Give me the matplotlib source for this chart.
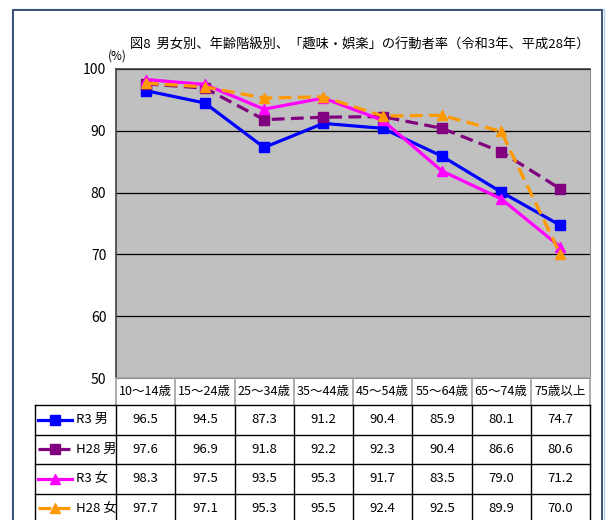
import matplotlib
matplotlib.use('Agg')
import matplotlib.pyplot as plt
import matplotlib.transforms as mtransforms

plt.rcParams['font.family'] = ['Noto Sans CJK JP', 'DejaVu Sans']

# DATA
ages = ['10～14歳', '15～24歳', '25～34歳', '35～44歳',
        '45～54歳', '55～64歳', '65～74歳', '75歳以上']
names = ['R3 男', 'H28 男', 'R3 女', 'H28 女']
r3_male = [96.5, 94.5, 87.3, 91.2, 90.4, 85.9, 80.1, 74.7]
h28_male = [97.6, 96.9, 91.8, 92.2, 92.3, 90.4, 86.6, 80.6]
r3_female = [98.3, 97.5, 93.5, 95.3, 91.7, 83.5, 79.0, 71.2]
h28_female = [97.7, 97.1, 95.3, 95.5, 92.4, 92.5, 89.9, 70.0]
values = [r3_male, h28_male, r3_female, h28_female]
yticks = [50, 60, 70, 80, 90, 100]
title = '図8  男女別、年齢階級別、「趣味・娯楽」の行動者率（令和3年、平成28年）'

# styles
colors = ['#0000ff', '#800080', '#ff00ff', '#ff9900']
markers = ['s', 's', '^', '^']
dashed = [False, True, False, True]

W, H = 608, 520
fig = plt.figure(figsize=(W / 100, H / 100), dpi=100)
L, R, T, B = 116, 590, 69, 378
ax = fig.add_axes([L / W, 1 - B / H, (R - L) / W, (B - T) / H])
ax.set_facecolor('#c0c0c0')
ax.set_xlim(-0.5, len(ages) - 0.5)
ax.set_ylim(50, 100)
ax.set_yticks(yticks)
ax.set_xticks([])
ax.tick_params(axis='y', length=0, pad=7, labelsize=10)
ax.yaxis.grid(True, color='black', lw=0.9)
ax.set_axisbelow(True)
for s in ['top', 'left']:
    ax.spines[s].set_color('#404040')
    ax.spines[s].set_linewidth(1.2)
for s in ['right', 'bottom']:
    ax.spines[s].set_color('#909090')

x = range(len(ages))
for v, c, m, d in zip(values, colors, markers, dashed):
    ls = (0, (4, 2)) if d else '-'
    ax.plot(x, v, color=c, lw=2.3, ls=ls, marker=m, ms=7.5, mec=c, mfc=c)

# overlay in pixel coords for frame, title and table
ov = fig.add_axes([0, 0, 1, 1], zorder=3)
ov.set_xlim(0, W)
ov.set_ylim(H, 0)
ov.axis('off')
ov.patch.set_alpha(0)

ov.plot([11.5, 11.5, 603.5, 603.5], [540, 8.5, 8.5, 540], color='#b8cfee', lw=1.0)
ov.plot([13, 13, 602, 602], [540, 10, 10, 540], color='#2b4468', lw=1.3)

ov.text(589, 45, title, ha='right', va='center', fontsize=9.5)
ov.text(117, 56, '(%)', ha='center', va='center', fontsize=8.5)

trans = mtransforms.blended_transform_factory(ax.transData, ov.transData)
head_top, head_bot = B, 405
row_h = 29.5
n = len(ages)

# header
for i in range(n + 1):
    ov.plot([i - 0.5, i - 0.5], [head_top, head_bot], color='#a0a0a0', lw=1.2, transform=trans)
for i, a in enumerate(ages):
    ov.text(i, (head_top + head_bot) / 2, a, ha='center', va='center', fontsize=9, transform=trans)

# data rows
table_bot = head_bot + row_h * len(names)
for k in range(len(names) + 1):
    ov.plot([35, R], [head_bot + k * row_h] * 2, color='black', lw=1.0)
ov.plot([35, 35], [head_bot, table_bot], color='black', lw=1.0)
for i in range(n + 1):
    ov.plot([i - 0.5, i - 0.5], [head_bot, table_bot], color='black', lw=1.0, transform=trans)

for k, (nm, v, c, m, d) in enumerate(zip(names, values, colors, markers, dashed)):
    yc = head_bot + (k + 0.5) * row_h
    ls = (0, (4, 2)) if d else '-'
    ov.plot([38, 55, 72], [yc] * 3, color=c, lw=2.3, ls=ls, marker=m, ms=7.5,
            mec=c, mfc=c, markevery=[1])
    ov.text(76, yc, nm, ha='left', va='center', fontsize=9.5)
    for i, val in enumerate(v):
        ov.text(i, yc, f'{val:.1f}', ha='center', va='center', fontsize=9.5, transform=trans)

fig.savefig('out.png', dpi=100)
